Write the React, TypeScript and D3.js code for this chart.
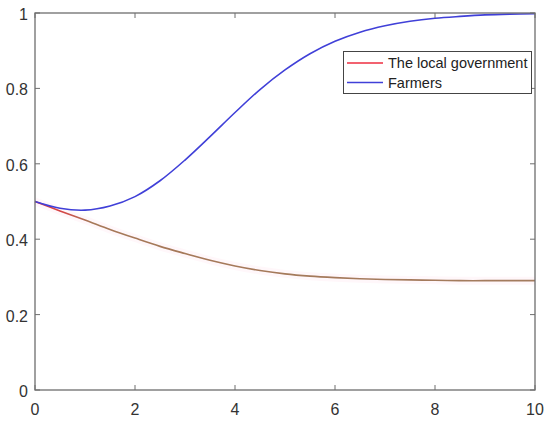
import React from "react";
import * as d3 from "d3";

const xValues = [0, 0.5, 1, 1.5, 2, 2.5, 3, 3.5, 4, 4.5, 5, 5.5, 6, 6.5, 7, 7.5, 8, 8.5, 9, 9.5, 10];
const governmentValues = [0.5, 0.475, 0.451, 0.426, 0.403, 0.381, 0.362, 0.344, 0.329, 0.317, 0.308, 0.302, 0.298, 0.295, 0.293, 0.292, 0.291, 0.29, 0.29, 0.29, 0.29];
const farmerValues = [0.5, 0.482, 0.477, 0.488, 0.513, 0.555, 0.61, 0.672, 0.736, 0.797, 0.849, 0.892, 0.925, 0.949, 0.966, 0.978, 0.986, 0.991, 0.995, 0.997, 0.998];
const xTicks = [0, 2, 4, 6, 8, 10];
const yTicks = [0, 0.2, 0.4, 0.6, 0.8, 1];
const legendLabels = ["The local government", "Farmers"];

export default function App() {
  const W = 550, H = 421;
  const L = 35, R = 535, T = 13, B = 390;
  const x = d3.scaleLinear().domain([0, 10]).range([L, R]);
  const y = d3.scaleLinear().domain([0, 1]).range([B, T]);
  const line = d3.line<number>().x((_, i) => x(xValues[i])).y((d) => y(d)).curve(d3.curveCatmullRom.alpha(0.5));
  const gov = line(governmentValues) || "";
  const farm = line(farmerValues) || "";
  const axisColor = "#6e6e6e";
  const textColor = "#333";
  const font = "Liberation Sans, Arial, sans-serif";
  const tl = 5;
  return (
    <svg width={W} height={H} style={{ position: "absolute", left: 0, top: 0, background: "#fff" }}>
      <defs>
        <linearGradient id="govGrad" gradientUnits="userSpaceOnUse" x1={x(0)} x2={x(10)} y1={0} y2={0}>
          <stop offset="0" stopColor="#e8303c" />
          <stop offset="0.06" stopColor="#d24a48" />
          <stop offset="0.11" stopColor="#a67858" />
          <stop offset="1" stopColor="#a37c5e" />
        </linearGradient>
      </defs>
      <rect x={0} y={0} width={W} height={H} fill="#fff" />
      <path d={gov} fill="none" stroke="#ff3080" strokeOpacity={0.04} strokeWidth={8} />
      <path d={gov} fill="none" stroke="url(#govGrad)" strokeWidth={1.6} />
      <path d={farm} fill="none" stroke="#4040d8" strokeWidth={1.6} />
      <rect x={L} y={T} width={R - L} height={B - T} fill="none" stroke={axisColor} strokeWidth={1.3} />
      {xTicks.map((t) => (
        <g key={"x" + t}>
          <line x1={x(t)} x2={x(t)} y1={B} y2={B - tl} stroke={axisColor} />
          <line x1={x(t)} x2={x(t)} y1={T} y2={T + tl} stroke={axisColor} />
          <text x={x(t)} y={415} textAnchor="middle" fontFamily={font} fontSize={16} fill={textColor}>{t}</text>
        </g>
      ))}
      {yTicks.map((t) => (
        <g key={"y" + t}>
          <line x1={L} x2={L + tl} y1={y(t)} y2={y(t)} stroke={axisColor} />
          <line x1={R} x2={R - tl} y1={y(t)} y2={y(t)} stroke={axisColor} />
          <text x={28} y={y(t) + 7} textAnchor="end" fontFamily={font} fontSize={16} fill={textColor}>{t}</text>
        </g>
      ))}
      <rect x={343.5} y={51.5} width={188} height={42} fill="#fff" stroke="#444" strokeWidth={1} />
      {legendLabels.map((lab, i) => {
        const ly = 63 + i * 19.5;
        return (
          <g key={lab}>
            <line x1={347} x2={383} y1={ly} y2={ly} stroke={i === 0 ? "#ee2e40" : "#4040d8"} strokeWidth={1.6} />
            <text x={388} y={ly + 5} fontFamily={font} fontSize={14.5} fill="#222">{lab}</text>
          </g>
        );
      })}
    </svg>
  );
}
